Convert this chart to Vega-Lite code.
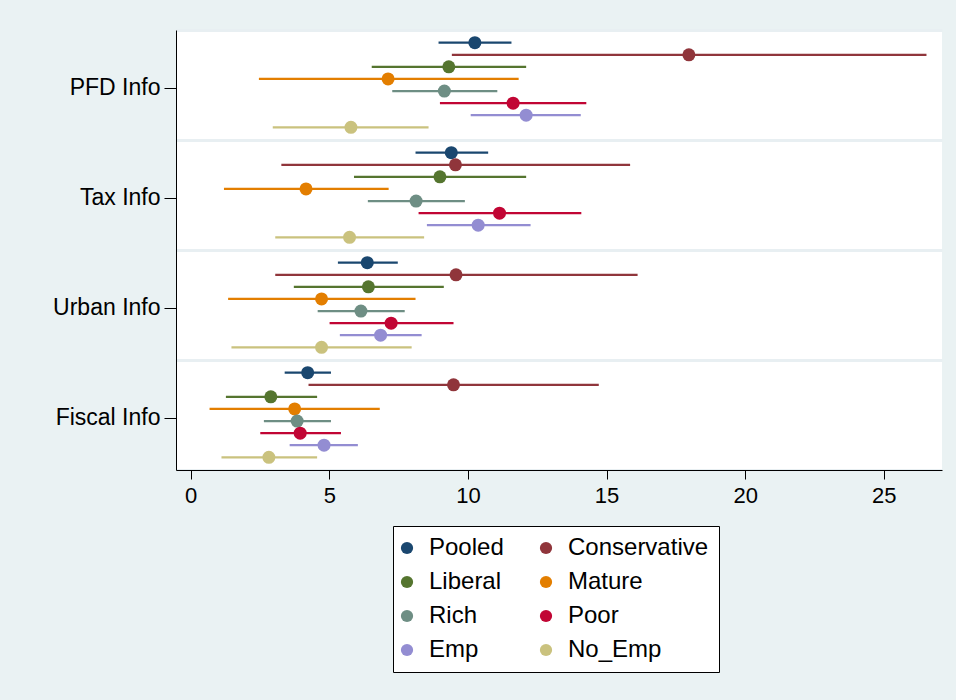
{
  "$schema": "https://vega.github.io/schema/vega-lite/v6.json",
  "width": 766,
  "height": 440,
  "autosize": {"type": "none"},
  "padding": {"left": 176, "top": 30, "right": 14, "bottom": 230},
  "background": "#EAF2F3",
  "config": {
    "font": "Liberation Sans",
    "view": {"fill": "white", "stroke": null},
    "legend": {
      "title": null, "orient": "none", "legendX": 217, "legendY": 496, "direction": "horizontal",
      "columns": 2, "symbolType": "circle", "symbolSize": 150, "symbolStrokeWidth": 0, "symbolOpacity": 1, "symbolOffset": -8,
      "labelFontSize": 24, "labelColor": "black", "labelOffset": 10, "rowPadding": 10, "columnPadding": 35,
      "padding": 10, "strokeColor": "black", "fillColor": "white", "cornerRadius": 0
    }
  },
  "data": {
    "values": [
      {"group": "PFD Info", "series": "Pooled", "est": 10.25, "lo": 8.94, "hi": 11.57},
      {"group": "PFD Info", "series": "Conservative", "est": 17.97, "lo": 9.42, "hi": 26.54},
      {"group": "PFD Info", "series": "Liberal", "est": 9.31, "lo": 6.53, "hi": 12.10},
      {"group": "PFD Info", "series": "Mature", "est": 7.12, "lo": 2.46, "hi": 11.83},
      {"group": "PFD Info", "series": "Rich", "est": 9.15, "lo": 7.27, "hi": 11.06},
      {"group": "PFD Info", "series": "Poor", "est": 11.63, "lo": 8.99, "hi": 14.27},
      {"group": "PFD Info", "series": "Emp", "est": 12.10, "lo": 10.10, "hi": 14.07},
      {"group": "PFD Info", "series": "No_Emp", "est": 5.78, "lo": 2.96, "hi": 8.58},
      {"group": "Tax Info", "series": "Pooled", "est": 9.40, "lo": 8.11, "hi": 10.73},
      {"group": "Tax Info", "series": "Conservative", "est": 9.55, "lo": 3.27, "hi": 15.85},
      {"group": "Tax Info", "series": "Liberal", "est": 8.99, "lo": 5.89, "hi": 12.10},
      {"group": "Tax Info", "series": "Mature", "est": 4.16, "lo": 1.20, "hi": 7.14},
      {"group": "Tax Info", "series": "Rich", "est": 8.13, "lo": 6.39, "hi": 9.89},
      {"group": "Tax Info", "series": "Poor", "est": 11.14, "lo": 8.22, "hi": 14.09},
      {"group": "Tax Info", "series": "Emp", "est": 10.37, "lo": 8.52, "hi": 12.26},
      {"group": "Tax Info", "series": "No_Emp", "est": 5.73, "lo": 3.05, "hi": 8.42},
      {"group": "Urban Info", "series": "Pooled", "est": 6.37, "lo": 5.31, "hi": 7.47},
      {"group": "Urban Info", "series": "Conservative", "est": 9.57, "lo": 3.05, "hi": 16.12},
      {"group": "Urban Info", "series": "Liberal", "est": 6.41, "lo": 3.72, "hi": 9.13},
      {"group": "Urban Info", "series": "Mature", "est": 4.72, "lo": 1.35, "hi": 8.11},
      {"group": "Urban Info", "series": "Rich", "est": 6.14, "lo": 4.58, "hi": 7.72},
      {"group": "Urban Info", "series": "Poor", "est": 7.23, "lo": 5.01, "hi": 9.48},
      {"group": "Urban Info", "series": "Emp", "est": 6.85, "lo": 5.38, "hi": 8.33},
      {"group": "Urban Info", "series": "No_Emp", "est": 4.72, "lo": 1.47, "hi": 7.97},
      {"group": "Fiscal Info", "series": "Pooled", "est": 4.22, "lo": 3.39, "hi": 5.06},
      {"group": "Fiscal Info", "series": "Conservative", "est": 9.48, "lo": 4.25, "hi": 14.72},
      {"group": "Fiscal Info", "series": "Liberal", "est": 2.89, "lo": 1.27, "hi": 4.56},
      {"group": "Fiscal Info", "series": "Mature", "est": 3.75, "lo": 0.68, "hi": 6.82},
      {"group": "Fiscal Info", "series": "Rich", "est": 3.84, "lo": 2.64, "hi": 5.06},
      {"group": "Fiscal Info", "series": "Poor", "est": 3.95, "lo": 2.51, "hi": 5.42},
      {"group": "Fiscal Info", "series": "Emp", "est": 4.81, "lo": 3.57, "hi": 6.03},
      {"group": "Fiscal Info", "series": "No_Emp", "est": 2.82, "lo": 1.11, "hi": 4.56}
    ]
  },
  "layer": [
    {
      "mark": {"type": "rule", "strokeWidth": 2.2},
      "encoding": {
        "y": {
          "field": "group", "type": "nominal",
          "sort": ["PFD Info", "Tax Info", "Urban Info", "Fiscal Info"],
          "scale": {"type": "band", "paddingInner": 0, "paddingOuter": 0},
          "axis": {"title": null, "orient": "left", "grid": false, "bandPosition": 0.53, "labelOffset": 3, "domainColor": "black", "domainWidth": 1, "tickColor": "black", "tickSize": 12, "labelFontSize": 23, "labelColor": "black", "labelPadding": 4}
        },
        "yOffset": {
          "field": "series", "type": "nominal",
          "sort": ["Pooled", "Conservative", "Liberal", "Mature", "Rich", "Poor", "Emp", "No_Emp"],
          "scale": {"paddingInner": 0, "paddingOuter": 0.55}
        },
        "x": {
          "field": "lo", "type": "quantitative",
          "scale": {"domain": [-0.53, 27.1], "nice": false, "zero": false},
          "axis": {"title": null, "values": [0, 5, 10, 15, 20, 25], "grid": false, "domainColor": "black", "domainWidth": 1, "tickColor": "black", "tickSize": 9, "labelFontSize": 22, "labelColor": "black", "labelPadding": 6, "labelFlush": false}
        },
        "x2": {"field": "hi"},
        "color": {
          "field": "series", "type": "nominal",
          "sort": ["Pooled", "Conservative", "Liberal", "Mature", "Rich", "Poor", "Emp", "No_Emp"],
          "scale": {"domain": ["Pooled", "Conservative", "Liberal", "Mature", "Rich", "Poor", "Emp", "No_Emp"], "range": ["#1a476f", "#90353b", "#55752f", "#e37e00", "#6e8e84", "#c10534", "#938dd2", "#cac27e"]}
        }
      }
    },
    {
      "mark": {"type": "circle", "size": 169, "opacity": 1},
      "encoding": {
        "y": {
          "field": "group", "type": "nominal",
          "sort": ["PFD Info", "Tax Info", "Urban Info", "Fiscal Info"],
          "axis": {"title": null, "orient": "right", "domain": false, "ticks": false, "labels": false, "grid": true, "tickBand": "extent", "gridColor": "#E8EFF2", "gridWidth": 3}
        },
        "yOffset": {
          "field": "series", "type": "nominal",
          "sort": ["Pooled", "Conservative", "Liberal", "Mature", "Rich", "Poor", "Emp", "No_Emp"]
        },
        "x": {
          "field": "est", "type": "quantitative",
          "axis": {"title": null, "values": [0, 5, 10, 15, 20, 25], "grid": false, "domainColor": "black", "domainWidth": 1, "tickColor": "black", "tickSize": 9, "labelFontSize": 22, "labelColor": "black", "labelPadding": 6, "labelFlush": false}
        },
        "color": {
          "field": "series", "type": "nominal",
          "sort": ["Pooled", "Conservative", "Liberal", "Mature", "Rich", "Poor", "Emp", "No_Emp"]
        }
      }
    }
  ],
  "resolve": {"axis": {"y": "independent"}}
}
